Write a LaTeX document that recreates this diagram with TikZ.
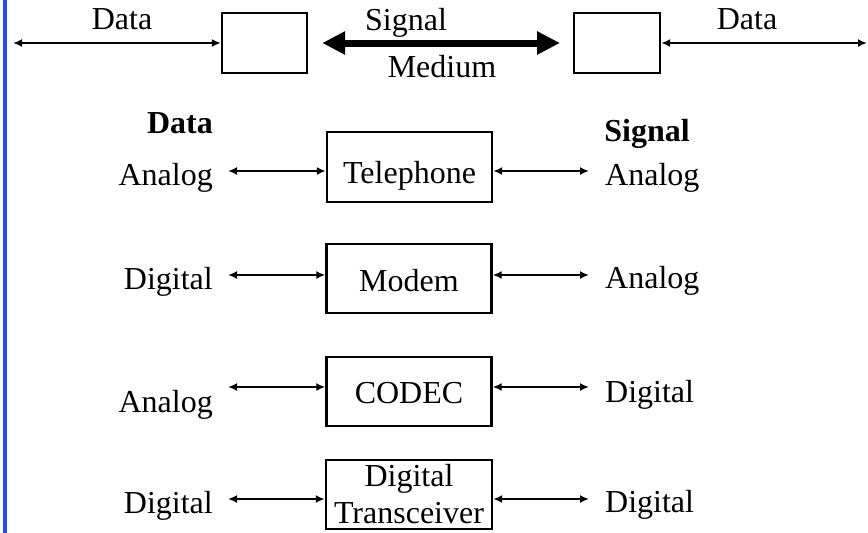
\documentclass[tikz,border=0pt]{standalone}
\usepackage{fontspec}
\setmainfont{Liberation Serif}
\usetikzlibrary{arrows.meta}
\definecolor{edgeblue}{RGB}{35,75,235}
\begin{document}
\begin{tikzpicture}[x=1pt,y=-1pt,
  every node/.style={font=\fontsize{32}{37}\selectfont, inner sep=0pt},
  lbl/.style={anchor=base},
  lblL/.style={anchor=base east},
  lblR/.style={anchor=base west},
  endbox/.style={draw, line width=2.4pt},
  dev/.style={draw, line width=2.4pt, anchor=base, minimum width=165pt, align=center},
  conn/.style={line width=1.9pt, {Latex[length=9pt,width=8pt]}-{Latex[length=9pt,width=8pt]}},
  mediumarrow/.style={line width=7pt, {Triangle[length=23pt,width=22pt]}-{Triangle[length=23pt,width=22pt]}}]
\useasboundingbox (0,0) rectangle (868,533);
% left rule
\draw[edgeblue, line width=4pt] (5,0) -- (5,533);

% top row
\node[endbox, minimum width=85pt, minimum height=60pt] (tl) at (264.5,43) {};
\node[endbox, minimum width=86pt, minimum height=60pt] (tr) at (617,43) {};
\coordinate (dL) at (13,43);
\coordinate (dR) at (867,43);
\draw[conn] (dL) -- (tl.west);
\draw[conn] (tr.east) -- (dR);
\draw[mediumarrow, shorten <=14pt, shorten >=12.8pt] (tl.east) -- (tr.west);
\node[lbl] (dataL) at (122,29) {Data};
\node[lbl] (dataR) at (747,29) {Data};
\node[lbl] (sig) at (406,30) {Signal};
\node[lbl] (med) at (442,77) {Medium};

% headings
\node[lbl] (hdata) at (180,133) {\bfseries Data};
\node[lbl] (hsig) at (647,141) {\bfseries Signal};

% devices
\node[dev, text height=51pt, text depth=19pt] (tel) at (409.5,183) {Telephone};
\node[dev, text height=47pt, text depth=22pt] (mod) at (409,291) {Modem};
\node[dev, text height=46pt, text depth=23pt] (codec) at (409,403) {CODEC};
\node[draw, line width=2.4pt, minimum width=166pt, minimum height=69pt, align=center] (trx) at (409,494.5) {Digital\\Transceiver};

% free ends
\coordinate (e1L) at (228,171); \coordinate (e1R) at (589,171);
\coordinate (e2L) at (228,275); \coordinate (e2R) at (589,275);
\coordinate (e3L) at (228,387); \coordinate (e3R) at (589,387);
\coordinate (e4L) at (228,499); \coordinate (e4R) at (589,499);

\draw[conn] (e1L) -- (e1L -| tel.west);
\draw[conn] (e1R -| tel.east) -- (e1R);
\draw[conn] (e2L) -- (e2L -| mod.west);
\draw[conn] (e2R -| mod.east) -- (e2R);
\draw[conn] (e3L) -- (e3L -| codec.west);
\draw[conn] (e3R -| codec.east) -- (e3R);
\draw[conn] (e4L) -- (e4L -| trx.west);
\draw[conn] (e4R -| trx.east) -- (e4R);

% side labels
\node[lblL] (a1) at (213,185) {Analog};
\node[lblR] (s1) at (605,185) {Analog};
\node[lblL] (a2) at (213,289) {Digital};
\node[lblR] (s2) at (605,288) {Analog};
\node[lblL] (a3) at (213,412) {Analog};
\node[lblR] (s3) at (605,402) {Digital};
\node[lblL] (a4) at (213,513) {Digital};
\node[lblR] (s4) at (605,512) {Digital};
\end{tikzpicture}
\end{document}
